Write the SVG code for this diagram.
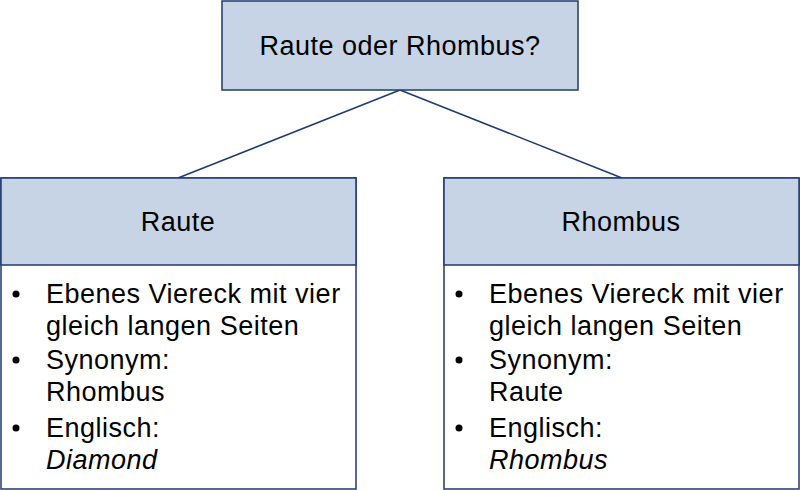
<svg xmlns="http://www.w3.org/2000/svg" width="800" height="490" viewBox="0 0 800 490">
<style>
.h{fill:#c6d4e6;stroke:#1f3a6e;stroke-width:1.5}
.b{fill:#fff;stroke:#1f3a6e;stroke-width:1.5}
text{font-family:"Liberation Sans",Arial,sans-serif;font-size:27px;letter-spacing:0.5px;fill:#000}
.c{text-anchor:middle}
</style>
<rect width="800" height="490" fill="#fff"/>
<g id="connectors" stroke="#1f3a6e" stroke-width="1.5" fill="none">
<line x1="400" y1="90" x2="178" y2="178"/>
<line x1="400" y1="90" x2="622" y2="178"/>
</g>
<g id="top">
<rect class="h" x="222" y="1" width="356" height="89"/>
<text class="c" x="400" y="55">Raute oder Rhombus?</text>
</g>
<g id="raute">
<rect class="b" x="1" y="178" width="355" height="311"/>
<rect class="h" x="1" y="178" width="355" height="87"/>
<text class="c" x="178" y="231">Raute</text>
<circle cx="16" cy="294" r="3.5"/><circle cx="16" cy="360" r="3.5"/><circle cx="16" cy="428" r="3.5"/>
<text x="46" y="303">Ebenes Viereck mit vier</text>
<text x="46" y="335">gleich langen Seiten</text>
<text x="46" y="369">Synonym:</text>
<text x="46" y="401">Rhombus</text>
<text x="46" y="437">Englisch:</text>
<text x="46" y="469" font-style="italic">Diamond</text>
</g>
<g id="rhombus">
<rect class="b" x="444" y="178" width="355" height="311"/>
<rect class="h" x="444" y="178" width="355" height="87"/>
<text class="c" x="621" y="231">Rhombus</text>
<circle cx="459" cy="294" r="3.5"/><circle cx="459" cy="360" r="3.5"/><circle cx="459" cy="428" r="3.5"/>
<text x="489" y="303">Ebenes Viereck mit vier</text>
<text x="489" y="335">gleich langen Seiten</text>
<text x="489" y="369">Synonym:</text>
<text x="489" y="401">Raute</text>
<text x="489" y="437">Englisch:</text>
<text x="489" y="469" font-style="italic">Rhombus</text>
</g>
</svg>
